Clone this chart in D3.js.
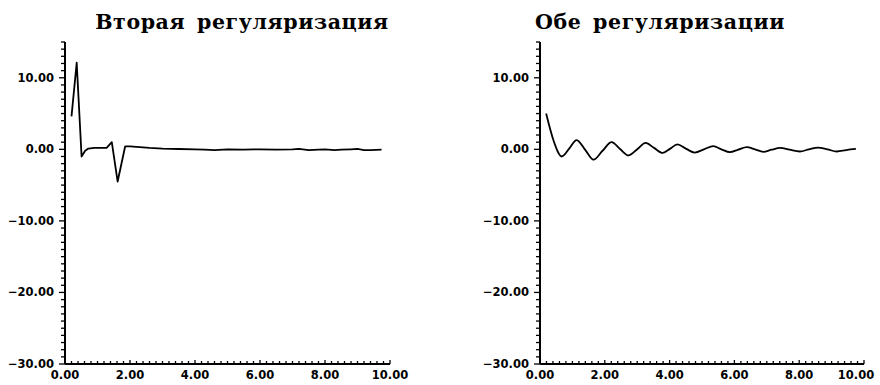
<!DOCTYPE html>
<html><head><meta charset="utf-8">
<script src="https://cdn.jsdelivr.net/npm/d3@7"></script>
<style>body{margin:0;background:#fff}svg{display:block}</style>
</head><body>
<svg id="c" width="880" height="385"></svg>
<script>
const titles = ["Вторая регуляризация", "Обе регуляризации"];
const xTicks = [0, 2, 4, 6, 8, 10];
const yTicks = [-30, -20, -10, 0, 10];
const leftX = [0.2, 0.36, 0.51, 0.62, 0.72, 0.9, 1.1, 1.28, 1.44, 1.62, 1.85, 2.0, 2.2, 2.6, 3.0, 3.5, 4.0, 4.3, 4.6, 5.0, 5.5, 5.8, 6.0, 6.5, 7.0, 7.2, 7.5, 7.8, 8.0, 8.3, 8.5, 8.8, 9.0, 9.2, 9.4, 9.74];
const leftY = [4.6, 12.1, -1.0, -0.2, 0.1, 0.2, 0.2, 0.2, 1.0, -4.5, 0.4, 0.4, 0.35, 0.2, 0.1, 0.05, 0.0, -0.05, -0.1, 0.0, -0.05, 0.0, 0.0, -0.05, 0.0, 0.05, -0.1, -0.05, 0.0, -0.1, -0.05, 0.0, 0.05, -0.1, -0.1, -0.05];
const rightX = [0.19, 0.42, 0.67, 0.9, 1.13, 1.4, 1.65, 1.93, 2.21, 2.47, 2.73, 3.0, 3.26, 3.52, 3.79, 4.02, 4.24, 4.5, 4.78, 5.06, 5.35, 5.6, 5.86, 6.12, 6.38, 6.64, 6.89, 7.15, 7.41, 7.7, 8.02, 8.3, 8.58, 8.87, 9.16, 9.45, 9.75];
const rightY = [5.0, 1.2, -1.0, 0.1, 1.3, -0.1, -1.45, -0.2, 1.0, 0.05, -0.85, 0.0, 0.9, 0.2, -0.5, 0.1, 0.7, 0.1, -0.45, 0.0, 0.45, 0.0, -0.4, -0.05, 0.3, 0.0, -0.35, -0.05, 0.2, -0.05, -0.3, 0.0, 0.25, 0.0, -0.3, -0.1, 0.05];

const panels = [
  {title: titles[0], xs: leftX, ys: leftY, x0: 65, x1: 390, titleX: 242, curve: d3.curveLinear},
  {title: titles[1], xs: rightX, ys: rightY, x0: 540, x1: 864, titleX: 660, curve: d3.curveMonotoneX}
];
const svg = d3.select("#c");
const yTop = 42, yBot = 364;
panels.forEach((p, pi) => {
  const g = svg.append("g");
  const x = d3.scaleLinear().domain([0, 10]).range([p.x0, p.x1]);
  const y = d3.scaleLinear().domain([-30, 15]).range([yBot, yTop]);
  g.append("text").attr("x", p.titleX).attr("y", 29).attr("text-anchor", "middle")
    .attr("font-family", "DejaVu Serif").attr("font-weight", "bold").attr("font-size", 20.5)
    .attr("letter-spacing", 0.6).attr("word-spacing", 4)
    .text(p.title);
  // y axis
  const yMinor = d3.range(-30, 15.5, 1);
  const ya = g.append("g").attr("transform", `translate(${p.x0},0)`);
  ya.append("line").attr("x1", 0).attr("x2", 0).attr("y1", y(15)).attr("y2", y(-30)).attr("stroke", "#000").attr("stroke-width", 2);
  ya.selectAll("line.m").data(yMinor).join("line").attr("class", "m")
    .attr("x1", d => yTicks.includes(d) ? -6 : -4).attr("x2", 0)
    .attr("y1", d => y(d)).attr("y2", d => y(d)).attr("stroke", "#000").attr("stroke-width", 1.3);
  ya.selectAll("text").data(yTicks).join("text")
    .attr("x", -11).attr("y", d => y(d)).attr("dy", "0.35em").attr("text-anchor", "end")
    .attr("font-family", "DejaVu Sans").attr("font-weight", "bold").attr("font-size", 11.5)
    .text(d => (d < 0 ? "\u2212" : "") + Math.abs(d).toFixed(2));
  // x axis
  const xMinor = d3.range(0, 10.01, 0.2);
  const xa = g.append("g").attr("transform", `translate(0,${yBot})`);
  xa.append("line").attr("x1", x(0)).attr("x2", x(10)).attr("y1", 0).attr("y2", 0).attr("stroke", "#000").attr("stroke-width", 2);
  xa.selectAll("line.m").data(xMinor).join("line").attr("class", "m")
    .attr("x1", d => x(d)).attr("x2", d => x(d)).attr("y1", 0)
    .attr("y2", d => Math.abs(d / 2 - Math.round(d / 2)) < 1e-6 ? -4 : -3)
    .attr("stroke", "#000").attr("stroke-width", 1.3);
  xa.selectAll("text").data(xTicks).join("text")
    .attr("x", d => (pi === 1 && d === 10) ? x(d) - 8 : x(d)).attr("y", 15).attr("text-anchor", "middle")
    .attr("font-family", "DejaVu Sans").attr("font-weight", "bold").attr("font-size", 11.5)
    .text(d => d.toFixed(2));
  const pts = p.xs.map((v, i) => [v, p.ys[i]]);
  g.append("path").datum(pts)
    .attr("d", d3.line().x(d => x(d[0])).y(d => y(d[1])).curve(p.curve))
    .attr("fill", "none").attr("stroke", "#000").attr("stroke-width", 1.8).attr("stroke-linejoin", "round");
});
</script>
</body></html>
